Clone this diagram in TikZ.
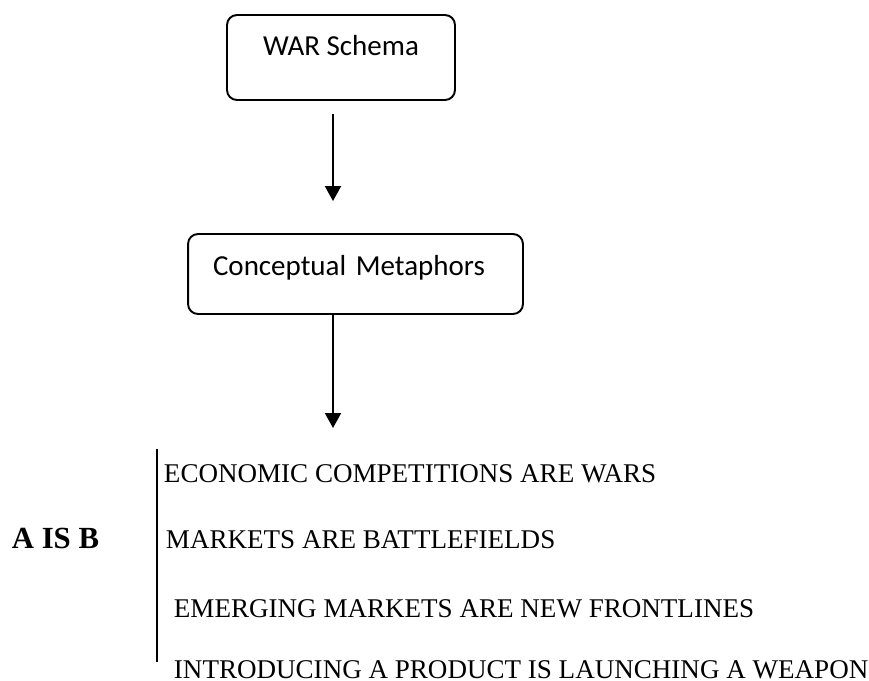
\documentclass[tikz,border=0pt]{standalone}
\usepackage{fontspec}
\setmainfont{Liberation Serif}
\newfontfamily\boxfont{Carlito}
\usetikzlibrary{arrows.meta, positioning}

\begin{document}
\begin{tikzpicture}[
  x=0.02cm, y=-0.02cm,
  line width=1.1pt,
  box/.style={draw=black, rounded corners=0.2cm, align=center,
              font=\boxfont\fontsize{16.5}{19}\selectfont, inner xsep=0pt},
  item/.style={font=\fontsize{15.4}{18}\selectfont, inner sep=0pt, anchor=base west},
  flow/.style={-{Triangle[length=0.3cm, width=0.32cm]}},
]
\useasboundingbox (0,0) rectangle (869,680);

% ======================= schema and metaphors ===========================
\node[box, minimum width=4.56cm, minimum height=1.7cm,
      text height=0.4cm, text depth=0.5cm] (war) at (341,57.5) {WAR Schema};
\node[box, minimum width=6.7cm, minimum height=1.6cm,
      text height=0.4cm, text depth=0.36cm,
      align=left, text width=5.7cm, inner xsep=0.5cm] (concept) at (355.5,274)
  {Conceptual Metaphors};

\coordinate (listtop) at (333,428);
\draw[flow, shorten <=0.26cm, shorten >=0.64cm] (war.south -| listtop) -- (concept.north -| listtop);
\draw[flow] (concept.south -| listtop) -- (listtop);

% ======================= A IS B =========================================
\node[item, font=\bfseries\fontsize{17.5}{20}\selectfont, anchor=base east]
  (aisb) at (100,548) {A IS B};
\coordinate (bartop) at (157,449);
\coordinate (barbot) at (157,662);
\draw (bartop) -- (barbot);

\node[item] (m1) at (163,482) {ECONOMIC COMPETITIONS ARE WARS};
\node[item] (m2) at (165,548) {MARKETS ARE BATTLEFIELDS};
\node[item] (m3) at (173,617) {EMERGING MARKETS ARE NEW FRONTLINES};
\node[item] (m4) at (173,678) {INTRODUCING A PRODUCT IS LAUNCHING A WEAPON};
\end{tikzpicture}
\end{document}
